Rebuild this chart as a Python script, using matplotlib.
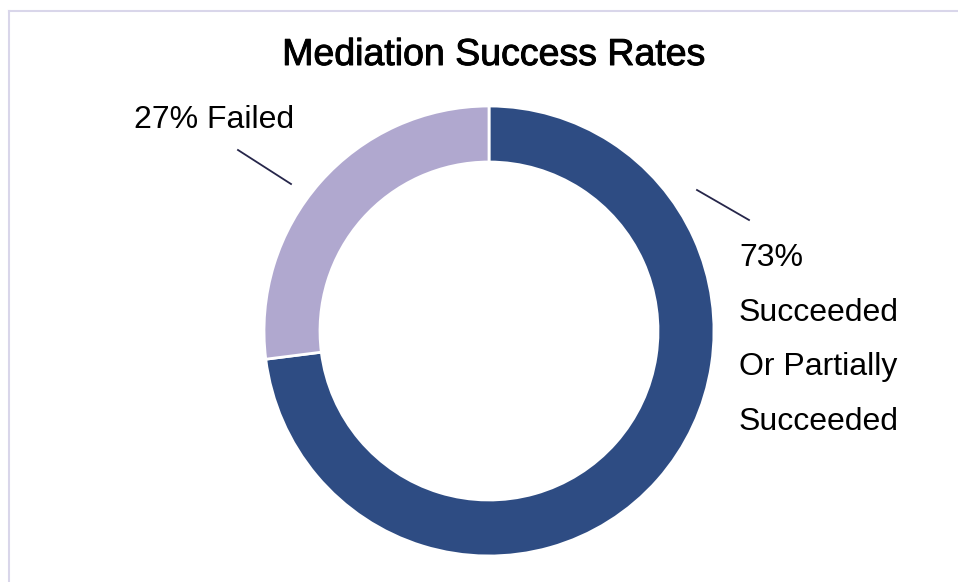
"""Donut chart: mediation success rates."""

import matplotlib
matplotlib.use("Agg")
import matplotlib.pyplot as plt
import matplotlib.patheffects as pe
from matplotlib.lines import Line2D

plt.rcParams["font.family"] = ["Liberation Sans", "DejaVu Sans"]

# data
labels = ["Succeeded Or Partially Succeeded", "Failed"]
shares = [73, 27]
colors = ["#2E4C83", "#B0A8CF"]
title = "Mediation Success Rates"

W, H = 958, 582
fig = plt.figure(figsize=(W / 100, H / 100), dpi=100)
ax = fig.add_axes([0, 0, 1, 1])

# donut (pixel coordinates, y up)
cx, cy, r = 489, H - 331, 225
ax.pie(shares, colors=colors, startangle=90, counterclock=False,
       center=(cx, cy), radius=r, frame=True,
       wedgeprops=dict(width=56, edgecolor="white", linewidth=2))
ax.set_xlim(0, W)
ax.set_ylim(0, H)
ax.set_aspect("equal")
ax.axis("off")

# chart frame (light border top/left)
frame_c = "#D9D6EA"
fig.add_artist(Line2D([8.5 / W, 1], [1 - 10.5 / H] * 2, color=frame_c, lw=1.5))
fig.add_artist(Line2D([8.5 / W] * 2, [0, 1 - 10.5 / H], color=frame_c, lw=1.5))

ax.text(494, H - 55, title, ha="center", va="center", fontsize=27,
        color="black",
        path_effects=[pe.withStroke(linewidth=0.7, foreground="black")])

# labels with leader lines
lead_c = "#26264A"
ax.text(214, H - 120, f"{shares[1]}% {labels[1]}", ha="center", va="center",
        fontsize=23, color="black")
ax.plot([238, 291], [H - 150, H - 184], color=lead_c, lw=1.3)

succ = f"{shares[0]}%\nSucceeded\nOr Partially\nSucceeded"
ax.text(739, H - 255 + 12, succ, ha="left", va="top", fontsize=23,
        color="black", linespacing=2.07)
ax.plot([697, 749], [H - 190, H - 220], color=lead_c, lw=1.3)

fig.savefig("out.png", dpi=100)
